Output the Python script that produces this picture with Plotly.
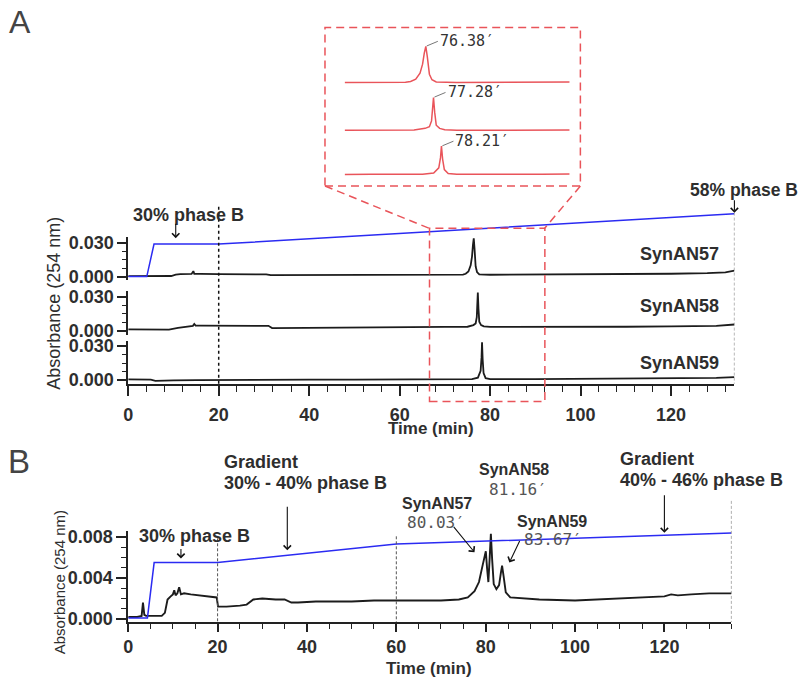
import plotly.graph_objects as go

# ---------------- data ----------------
# Panel A chromatograms (time in min, absorbance at 254 nm)
a57_t = [0, 4, 8, 9.5, 10.5, 11.5, 14, 14.4, 14.6, 14.9, 16, 20, 25, 30.5, 31.5, 40, 50, 60, 70,
         74, 74.6, 75.2, 75.7, 76.0, 76.2, 76.38, 76.55, 76.8, 77.1, 77.6,
         80, 90, 100, 110, 120, 128, 132, 134]
a57_v = [0.0003, 0.0003, 0.0002, 0.0005, 0.0018, 0.0022, 0.0023, 0.0048, 0.0024, 0.0023, 0.0023,
         0.0021, 0.0020, 0.0020, 0.0012, 0.0013, 0.0014, 0.0015, 0.0016,
         0.0018, 0.0025, 0.0045, 0.0100, 0.0180, 0.0280, 0.0340, 0.0250, 0.0090, 0.0040, 0.0020,
         0.0016, 0.0017, 0.0019, 0.0022, 0.0025, 0.0030, 0.0038, 0.0052]

a58_t = [0, 4, 8, 9, 11, 13, 14.3, 14.6, 14.9, 16, 20, 25, 31, 31.8, 40, 50, 60, 70, 75, 76.3, 76.8,
         77.05, 77.15, 77.28, 77.42, 77.6, 78.0, 78.6, 80, 90, 100, 110, 120, 130, 134]
a58_v = [0.0011, 0.0010, 0.0008, 0.0010, 0.0025, 0.0040, 0.0043, 0.0060, 0.0045, 0.0045, 0.0044, 0.0043,
         0.0043, 0.0023, 0.0024, 0.0026, 0.0030, 0.0034, 0.0035, 0.0050, 0.0065,
         0.0120, 0.0220, 0.0340, 0.0200, 0.0080, 0.0050, 0.0038, 0.0033, 0.0032, 0.0033, 0.0035, 0.0038,
         0.0043, 0.0055]

a59_t = [0, 3, 5, 6, 8, 10, 15, 20, 30, 40, 50, 60, 70, 76, 77.3, 77.9, 78.1, 78.21, 78.35, 78.55, 79,
         80, 90, 100, 110, 120, 130, 134]
a59_v = [0.0005, 0.0005, 0.0003, -0.0008, -0.0009, -0.0004, -0.0002, 0.0000, 0.0001, 0.0002, 0.0003,
         0.0003, 0.0004, 0.0006, 0.0020, 0.0080, 0.0200, 0.0335, 0.0180, 0.0060, 0.0015,
         0.0006, 0.0006, 0.0008, 0.0010, 0.0013, 0.0018, 0.0024]

a_names = ["SynAN57", "SynAN58", "SynAN59"]
a_peak_times = [76.38, 77.28, 78.21]
a_peak_vals = [0.0340, 0.0340, 0.0335]

# Panel A gradient (% phase B)
a_grad_t = [0, 4.1, 5.7, 20, 134]
a_grad_pct = [0, 0, 30, 30, 58]

# Panel B chromatogram (co-injection)
b_t = [0, 2, 3.0, 3.3, 3.6, 4, 6, 7.5, 8.2, 8.8, 9.5, 10, 10.3, 10.6, 11, 11.4, 11.8, 12.5, 14, 16, 18,
       19.8, 20.1, 22, 25, 26.5, 28, 30, 33, 35, 36.5, 38, 42, 50, 55, 60, 65, 70, 74, 76, 77.5, 78.5,
       79.3, 79.8, 80.03, 80.3, 80.6, 80.9, 81.16, 81.45, 81.8, 82.4, 83.0, 83.4, 83.67, 84.0, 84.5,
       85.5, 88, 92, 100, 105, 110, 115, 120, 121.5, 123, 126, 130, 135]
b_v = [0.0002, 0.0002, 0.0003, 0.0016, 0.0004, 0.0003, 0.0003, 0.0003, 0.0006, 0.0019, 0.0022, 0.0024,
       0.0028, 0.0023, 0.0025, 0.0031, 0.0024, 0.0025, 0.0024, 0.0023, 0.0022,
       0.0021, 0.0012, 0.0012, 0.0013, 0.0014, 0.0019, 0.0020, 0.0019, 0.0019, 0.0016, 0.0016, 0.0017,
       0.0017, 0.0018, 0.0018, 0.0018, 0.0018, 0.0019, 0.0021, 0.0027, 0.0036,
       0.0052, 0.0064, 0.0066, 0.0050, 0.0036, 0.0060, 0.0083, 0.0058, 0.0034, 0.0029, 0.0033, 0.0045,
       0.0052, 0.0042, 0.0026,
       0.0021, 0.0020, 0.0019, 0.0018, 0.0019, 0.0020, 0.0021, 0.0022, 0.0024, 0.0023, 0.0024, 0.0025,
       0.0025]
b_peak_times = [80.03, 81.16, 83.67]
b_grad_t = [0, 4.3, 5.8, 20, 60, 135]
b_grad_pct = [0, 0, 30, 30, 40, 46]

# ---------------- layout helpers ----------------
W, H = 800, 686
SANS = "Liberation Sans, Arial, sans-serif"
MONO = "DejaVu Sans Mono, Liberation Mono, monospace"
TXT = "#2e2e2e"
AX = "#222222"
BLACK = "#1c1c1c"
BLUE = "#2b2bf2"
RED = "rgb(233,84,90)"


def PX(px):
    return px / W


def PY(py):
    return 1 - py / H


fig = go.Figure()

# Panel A traces
a_series = [(a57_t, a57_v), (a58_t, a58_v), (a59_t, a59_v)]
for i, (t, v) in enumerate(a_series):
    fig.add_trace(go.Scatter(x=t, y=v, mode="lines", line=dict(color=BLACK, width=1.8),
                             xaxis="x", yaxis="y" if i == 0 else f"y{i+1}", showlegend=False))
fig.add_trace(go.Scatter(x=a_grad_t, y=a_grad_pct, mode="lines", line=dict(color=BLUE, width=1.5),
                         xaxis="x", yaxis="y4", showlegend=False))
# Inset (zoom of panel A peaks)
for i, (t, v) in enumerate(a_series):
    fig.add_trace(go.Scatter(x=t, y=v, mode="lines", line=dict(color=RED, width=1.5),
                             xaxis="x2", yaxis=f"y{5+i}", showlegend=False))
# Panel B
fig.add_trace(go.Scatter(x=b_t, y=b_v, mode="lines", line=dict(color=BLACK, width=1.9),
                         xaxis="x3", yaxis="y8", showlegend=False))
fig.add_trace(go.Scatter(x=b_grad_t, y=b_grad_pct, mode="lines", line=dict(color=BLUE, width=1.5),
                         xaxis="x3", yaxis="y9", showlegend=False))

tickfont = dict(family=SANS, size=18, color=TXT, weight="bold")
A_YR = [-0.0035, 0.035]


def a_yaxis(bot, top):
    return dict(domain=[PY(bot), PY(top)], range=A_YR, anchor="x", showline=True, linecolor=AX,
                linewidth=1.5, ticks="outside", ticklen=9, tickwidth=1.5, tickcolor=AX,
                tickvals=[0, 0.03], ticktext=["0.000", "0.030"], tickfont=tickfont,
                showgrid=False, zeroline=False,
                minor=dict(ticks="outside", dtick=0.0075, tick0=0, ticklen=4, tickwidth=1.2,
                           tickcolor=AX, showgrid=False))


def hidden(**kw):
    d = dict(visible=False, showgrid=False, zeroline=False)
    d.update(kw)
    return d


b_zero_px = 625
b_px_per = 0.0000959  # absorbance per pixel in panel B
BYR = [-(628 - b_zero_px) * b_px_per, (b_zero_px - 536) * b_px_per]
B_BASE = 0.0001
B_PCT = 0.00018

fig.update_layout(
    width=W, height=H, margin=dict(l=0, r=0, t=0, b=0),
    paper_bgcolor="white", plot_bgcolor="rgba(0,0,0,0)",
    font=dict(family=SANS, color=TXT),
    showlegend=False,
    xaxis=dict(domain=[PX(124), PX(734)], range=[0, 134], anchor="y3", showline=True, linecolor=AX,
               linewidth=1.5, ticks="outside", ticklen=10, tickwidth=1.5, tickcolor=AX, dtick=20,
               tick0=0, tickfont=tickfont, showgrid=False, zeroline=False, ticklabelstandoff=4,
               minor=dict(ticks="outside", dtick=4, tick0=0, ticklen=6, tickwidth=1.2, tickcolor=AX,
                          showgrid=False)),
    yaxis=a_yaxis(281, 237),
    yaxis2=a_yaxis(336, 292),
    yaxis3=a_yaxis(386, 342),
    yaxis4=hidden(domain=[PY(281), PY(195)], range=[-4 / 1.1, (277 - 195) / 1.1], anchor="x"),
    xaxis2=hidden(domain=[PX(342), PX(568)], range=[66.9, 93.2], anchor="y5"),
    yaxis5=hidden(domain=[PY(85.5), PY(41.9)], range=A_YR, anchor="x2"),
    yaxis6=hidden(domain=[PY(135.6), PY(93.9)], range=A_YR, anchor="x2"),
    yaxis7=hidden(domain=[PY(176.5), PY(143.2)], range=A_YR, anchor="x2"),
    xaxis3=dict(domain=[PX(124), PX(731)], range=[0, 135], anchor="y8", showline=True, linecolor=AX,
                linewidth=1.5, ticks="outside", ticklen=8, tickwidth=1.5, tickcolor=AX, dtick=20,
                tick0=0, tickfont=tickfont, showgrid=False, zeroline=False,
                minor=dict(ticks="outside", dtick=5, tick0=0, ticklen=5, tickwidth=1.2, tickcolor=AX,
                           showgrid=False)),
    yaxis8=dict(domain=[PY(628), PY(536)], range=BYR, anchor="x3", showline=True, linecolor=AX,
                linewidth=1.5, ticks="outside", ticklen=10, tickwidth=1.5, tickcolor=AX,
                tickvals=[0, 0.004, 0.008], ticktext=["0.000", "0.004", "0.008"], tickfont=tickfont,
                showgrid=False, zeroline=False,
                minor=dict(ticks="outside", dtick=0.001, tick0=0, ticklen=5, tickwidth=1.2,
                           tickcolor=AX, showgrid=False)),
    yaxis9=hidden(overlaying="y8", anchor="x3",
                  range=[(BYR[0] - B_BASE) / B_PCT, (BYR[1] - B_BASE) / B_PCT]),
)

anns = []


def text(s, px, py, size=18, bold=True, xanchor="left", family=SANS, color=TXT, angle=0):
    anns.append(dict(text=s, x=PX(px), y=PY(py), xref="paper", yref="paper", showarrow=False,
                     xanchor=xanchor, yanchor="middle", textangle=angle,
                     font=dict(family=family, size=size, color=color,
                               weight="bold" if bold else "normal")))


def arrow(x, y, xref, yref, ax, ay, width=1.1):
    anns.append(dict(text="", x=x, y=y, xref=xref, yref=yref, ax=ax, ay=ay, showarrow=True,
                     arrowhead=4, arrowsize=1.3, arrowwidth=width, arrowcolor="#111", standoff=0))


# Panel letters
text("A", 2, 18, size=32, bold=False, color="#444")
text("B", 1, 465, size=33, bold=False, color="#444")

# Panel A labels
text("30% phase B", 127, 214)
text("58% phase B", 687, 189, size=17.5)
for name, py in zip(a_names, [254, 307, 365]):
    text(name, 721, py, xanchor="right")
text("Time (min)", 429, 431, size=17, xanchor="center")
text("Absorbance (254 nm)", 49, 304, size=18, bold=False, xanchor="center", angle=-90)
arrow(10.5, 35.5, "x", "y4", 0, -16)
arrow(134, 59, "x", "y4", 0, -14)

# Inset retention time labels
for i, (t, v) in enumerate(zip(a_peak_times, a_peak_vals)):
    anns.append(dict(text=f"{t:.2f}\u2032", x=t, y=v, xref="x2", yref=f"y{5+i}", showarrow=True,
                     arrowhead=0, arrowwidth=1, arrowcolor="#777", ax=12, ay=-5, xanchor="left",
                     yanchor="middle", standoff=1,
                     font=dict(family=MONO, size=15, color="#333")))

# Panel B labels
text("Gradient", 218, 465)
text("30% - 40% phase B", 218, 487)
text("30% phase B", 133, 541)
text("Gradient", 617, 462)
text("40% - 46% phase B", 617, 484)
text("Time (min)", 427, 675, size=17, xanchor="center")
text("Absorbance (254 nm)", 55, 588, size=15, bold=False, xanchor="center", angle=-90)
arrow(11.8, (0.0059 - B_BASE) / B_PCT, "x3", "y9", 0, -11)
arrow(35.6, (0.0067 - B_BASE) / B_PCT, "x3", "y9", 0, -45)
arrow(120, (0.0084 - B_BASE) / B_PCT, "x3", "y9", 0, -39)

b_lbl = [(397, 508, 403, 527), (475, 473, 485, 493), (513, 526, 520, 544)]
for name, t, (nx, ny, tx, ty) in zip(a_names, b_peak_times, b_lbl):
    text(name, nx, ny, size=16)
    text(f"{t:.2f}\u2032", tx, ty, size=16, bold=False, family=MONO, color="#555")
arrow(77.5, 0.0065, "x3", "y8", -22, -27)
arrow(81.3, 0.0088, "x3", "y8", 13, -31)
arrow(85.3, 0.0055, "x3", "y8", 11, -23)

fig.update_layout(annotations=anns)

# ---------------- shapes ----------------
shapes = []
shapes.append(dict(type="line", xref="x", yref="paper", x0=20, x1=20, y0=PY(206), y1=PY(386),
                   line=dict(color="#111", width=1.5, dash="dot")))
shapes.append(dict(type="line", xref="x", yref="paper", x0=134, x1=134, y0=PY(212), y1=PY(386),
                   line=dict(color="#666", width=1, dash="3px,2px")))
for t, top in [(20, 543), (60, 541), (135, 505)]:
    shapes.append(dict(type="line", xref="x3", yref="paper", x0=t, x1=t, y0=PY(top), y1=PY(628),
                       line=dict(color="#555", width=1, dash="3px,2px")))
red = dict(color=RED, width=1.5, dash="8px,5px")
shapes.append(dict(type="rect", xref="paper", yref="paper", x0=PX(322), x1=PX(579), y0=PY(185),
                   y1=PY(24), line=red))
shapes.append(dict(type="rect", xref="x", yref="paper", x0=66.6, x1=92.1, y0=PY(404), y1=PY(228),
                   line=red))
shapes.append(dict(type="line", xref="paper", yref="paper", x0=PX(322), y0=PY(185), x1=PX(427),
                   y1=PY(228), line=red))
shapes.append(dict(type="line", xref="paper", yref="paper", x0=PX(579), y0=PY(185), x1=PX(543),
                   y1=PY(228), line=red))
fig.update_layout(shapes=shapes)

# remove the default page margin so the 800x686 figure fills the window exactly
fig.write_html("out.html", config={"displayModeBar": False},
               post_script="document.body.style.margin='0';")
